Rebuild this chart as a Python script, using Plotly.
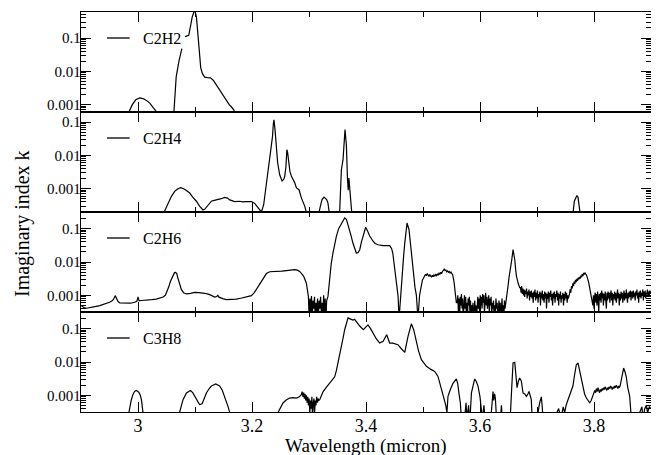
import numpy as np
import plotly.graph_objects as go
from plotly.subplots import make_subplots

# ---------------- data (wavelength in micron, imaginary index k) ----------------
gas_names = ["C2H2", "C2H4", "C2H6", "C3H8"]

c2h2_x = [2.978, 2.984, 2.990, 2.996, 3.003, 3.010, 3.016, 3.021, 3.027, 3.033, 3.040,
          3.058, 3.063, 3.067, 3.072, 3.077, None,
          3.0825, 3.086, 3.089, 3.092, 3.095, 3.0995, 3.1025, 3.1065, 3.110, 3.113, 3.117,
          3.122, 3.127, 3.132, 3.137, 3.143, 3.149, 3.155, 3.160, 3.164, 3.168, 3.172]
c2h2_k = [0.0003, 0.0006, 0.0010, 0.0014, 0.0016, 0.0015, 0.0013, 0.0011, 0.0008, 0.0006, 0.0003,
          0.0003, 0.0006, 0.0068, 0.021, 0.048, None,
          0.11, 0.115, 0.12, 0.22, 0.42, 0.70, 0.43, 0.068, 0.013, 0.0085, 0.0067,
          0.0065, 0.0064, 0.0054, 0.0040, 0.0027, 0.0019, 0.00135, 0.0010, 0.00085, 0.0007, 0.0004]

c2h4_x = [3.040, 3.046, 3.052, 3.0586, 3.065, 3.070, 3.075, 3.080, 3.085, 3.0907, 3.096, 3.1025,
          3.108, 3.114, 3.117, 3.120, 3.1245, 3.1288, 3.132, 3.135, 3.1404, 3.146, 3.152, 3.157,
          3.161, 3.1696, 3.178, 3.184, 3.190, 3.195, 3.199, 3.2047, 3.2105, 3.2165, 3.2205,
          3.2253, 3.228, 3.231, 3.2335, 3.236, 3.2375, 3.2385, 3.2404, 3.2425, 3.245, 3.2486,
          3.2527, 3.2555, 3.2574, 3.2595, 3.2612, 3.2625, 3.2645, 3.2665, 3.269, 3.272, 3.275,
          3.278, 3.2825, 3.2866, 3.2925, 3.297,
          3.316, 3.320, 3.3228, 3.3263, 3.329, 3.331, 3.3333, 3.3363,
          3.350, 3.3535, 3.3568, 3.3597, 3.3632, 3.3656, 3.3675, 3.3688, 3.370, 3.3715, 3.3735,
          3.3755, 3.380,
          3.762, 3.7655, 3.768, 3.770, 3.772, 3.774, 3.777]
c2h4_k = [0.00012, 0.0002, 0.00035, 0.00059, 0.00085, 0.0010, 0.00107, 0.0010, 0.00088, 0.00074,
          0.00056, 0.00042, 0.0003, 0.00023, 0.00024, 0.00028, 0.00036, 0.00042, 0.00044, 0.00045,
          0.00047, 0.0005, 0.00055, 0.00052, 0.00046, 0.00041, 0.00042, 0.0004, 0.00041, 0.00042,
          0.00041, 0.00036, 0.00026, 0.0002, 0.00033,
          0.0015, 0.0035, 0.0074, 0.016, 0.037, 0.09, 0.117, 0.059, 0.018, 0.006, 0.0026,
          0.0017, 0.0019, 0.0023, 0.0045, 0.0148, 0.012, 0.006, 0.0033, 0.0024, 0.0019, 0.0015,
          0.00105, 0.00093, 0.00053, 0.0003, 0.00015,
          0.00015, 0.0003, 0.00047, 0.00056, 0.0005, 0.00047, 0.00037, 0.00015,
          0.00012, 0.00015, 0.0037, 0.0074, 0.059, 0.02, 0.002, 0.0009, 0.0021, 0.0009, 0.0005,
          0.00015, 0.00012,
          0.00012, 0.00042, 0.00055, 0.00062, 0.00055, 0.0003, 0.00012]

# C2H6: smooth parts plus hand-read noisy stretches
c2h6_x_a = [2.900, 2.903, 2.906, 2.910, 2.915, 2.922, 2.933, 2.942, 2.950, 2.954, 2.957, 2.960,
            2.9625, 2.965, 2.968, 2.975, 2.9796, 2.987, 2.994, 2.998, 3.000, 3.002, 3.006,
            3.0147, 3.024, 3.032, 3.038, 3.044, 3.048, 3.051, 3.054, 3.0568, 3.0614, 3.064,
            3.066, 3.068, 3.070, 3.073, 3.076, 3.080, 3.085, 3.092, 3.0995, 3.107, 3.114, 3.120,
            3.1258, 3.1346, 3.138, 3.140, 3.142, 3.145, 3.150, 3.155, 3.164, 3.1726, 3.182, 3.190,
            3.195, 3.199, 3.204, 3.2077, 3.212, 3.2165, 3.221, 3.2253, 3.231, 3.237, 3.243, 3.252,
            3.2604, 3.268, 3.2749, 3.2795, 3.2837, 3.287, 3.2907, 3.2954, 3.2975]
c2h6_k_a = [0.0005, 0.00045, 0.00042, 0.00041, 0.00042, 0.00045, 0.00049, 0.00055, 0.00062,
            0.00068, 0.00075, 0.00098, 0.0008, 0.00065, 0.00059, 0.00058, 0.00057, 0.00058,
            0.00062, 0.00066, 0.00089, 0.00068, 0.0007, 0.00071, 0.00074, 0.00077, 0.00082,
            0.00089, 0.0010, 0.0013, 0.0018, 0.0026, 0.0042, 0.0048, 0.0049, 0.0045, 0.0033,
            0.0021, 0.0015, 0.0012, 0.0011, 0.00115, 0.00122, 0.0012, 0.00118, 0.00112, 0.00105,
            0.00089, 0.00092, 0.0010, 0.00088, 0.00083, 0.00078, 0.00074, 0.00075, 0.00077,
            0.00083, 0.00089, 0.00093, 0.00098, 0.0012, 0.0015, 0.0020, 0.0026, 0.0036, 0.0045,
            0.0051, 0.0051, 0.0051, 0.0053, 0.0055, 0.0057, 0.0059, 0.0057, 0.0052, 0.0045,
            0.0037, 0.0023, 0.0013]
c2h6_noise1_span = (3.299, 3.331)
c2h6_noise1_k = [0.0009, 0.0002, 0.0008, 0.0003, 0.00095, 0.0002, 0.0007, 0.0004, 0.0009, 0.0002,
                 0.0006, 0.0003, 0.0008, 0.0002, 0.0007, 0.0004, 0.0009, 0.0003, 0.0006, 0.0002,
                 0.0010, 0.0003, 0.0008, 0.0002, 0.0007]
c2h6_x_b = [3.3333, 3.3363, 3.339, 3.342, 3.345, 3.348, 3.352, 3.357, 3.3626, 3.3656, 3.368,
            3.3714, 3.374, 3.377, 3.380, 3.383, 3.386, 3.389, 3.392, 3.3947, 3.3995, 3.4035,
            3.4065, 3.4124, 3.416, 3.421, 3.430, 3.4416, 3.445, 3.447, 3.4495, 3.452, 3.4545,
            3.4563, 3.458, 3.4604, 3.462, 3.4639, 3.466, 3.468, 3.470, 3.472, 3.4755, 3.4775,
            3.4796, 3.4815, 3.4837, 3.486, 3.4884, 3.4912, 3.494, 3.4965, 3.499]
c2h6_k_b = [0.00093, 0.0037, 0.009, 0.0186, 0.035, 0.059, 0.10, 0.148, 0.21, 0.19, 0.14, 0.093,
            0.06, 0.037, 0.025, 0.0186, 0.019, 0.0234, 0.04, 0.059, 0.11, 0.08, 0.06, 0.042,
            0.036, 0.033, 0.031, 0.031, 0.025, 0.0186, 0.009, 0.0037, 0.0016, 0.00093, 0.0002,
            0.00093, 0.0025, 0.0059, 0.015, 0.037, 0.08, 0.148, 0.093, 0.04, 0.0186, 0.008,
            0.0037, 0.0017, 0.0010, 0.0002, 0.0010, 0.0019, 0.0029]
c2h6_plateau_span = (3.500, 3.552)
c2h6_plateau_k = [0.0031, 0.0036, 0.0040, 0.0043, 0.0039, 0.0044, 0.0041, 0.0037, 0.0042, 0.0038,
                  0.0035, 0.0040, 0.0036, 0.0041, 0.0038, 0.0042, 0.0039, 0.0044, 0.0040, 0.0046,
                  0.0043, 0.0049, 0.0045, 0.0052, 0.0056, 0.0061, 0.0055, 0.0058, 0.0051, 0.0054,
                  0.0049, 0.0052, 0.0047, 0.0050, 0.0045, 0.0042]
c2h6_x_c = [3.5545, 3.5556, 3.5585]
c2h6_k_c = [0.0025, 0.0015, 0.0006]
c2h6_noise2_span = (3.560, 3.645)
c2h6_noise2_k = [0.0006, 0.0010, 0.0003, 0.0008, 0.0002, 0.0009, 0.0005, 0.0011, 0.0004, 0.0008,
                 0.0002, 0.0007, 0.0010, 0.0004, 0.0009, 0.0003, 0.0006, 0.0002, 0.0008, 0.0005,
                 0.0009, 0.0003, 0.0007, 0.0002, 0.0005, 0.0003, 0.0006, 0.0002, 0.0004, 0.0007,
                 0.0003, 0.0005, 0.0002, 0.0006, 0.0009, 0.0004, 0.0008, 0.0003, 0.0010, 0.0005,
                 0.0009, 0.0004, 0.0011, 0.0006, 0.0010, 0.0003, 0.0008, 0.0012, 0.0005, 0.0009,
                 0.0004, 0.0007, 0.0010, 0.0003, 0.0008, 0.0005, 0.0009, 0.0002, 0.0006, 0.0004,
                 0.0007, 0.0002, 0.0005, 0.0003, 0.0008, 0.0004, 0.0006, 0.0002, 0.0005, 0.0007,
                 0.0003, 0.0006, 0.0002, 0.0004, 0.0008, 0.0003, 0.0005, 0.0002, 0.0007, 0.0004,
                 0.0006]
c2h6_x_d = [3.6463, 3.649, 3.651, 3.6533, 3.6555, 3.658, 3.6595, 3.661, 3.6625, 3.664, 3.667, 3.6696]
c2h6_k_d = [0.0007, 0.0018, 0.0035, 0.0059, 0.011, 0.0234, 0.018, 0.0117, 0.006, 0.0037, 0.0023, 0.0017]
c2h6_noise3_span = (3.671, 3.755)
c2h6_noise3_k = [0.0017, 0.0012, 0.0019, 0.0011, 0.0016, 0.0010, 0.0015, 0.0009, 0.0014, 0.0011,
                 0.0016, 0.0008, 0.0013, 0.0010, 0.0015, 0.0007, 0.0013, 0.0009, 0.0014, 0.0008,
                 0.0012, 0.0006, 0.0013, 0.0009, 0.0015, 0.0007, 0.0012, 0.0008, 0.0014, 0.0006,
                 0.0011, 0.0009, 0.0013, 0.0005, 0.0012, 0.0008, 0.0014, 0.0007, 0.0011, 0.0006,
                 0.0013, 0.0008, 0.0012, 0.0004, 0.0011, 0.0008, 0.0013, 0.0006, 0.0012, 0.0009,
                 0.0014, 0.0007, 0.0011, 0.0005, 0.0012, 0.0008, 0.0013, 0.0006, 0.0011, 0.0009,
                 0.0014, 0.0007, 0.0012, 0.0005, 0.0011, 0.0008, 0.0013, 0.0006, 0.0010, 0.0008,
                 0.0012, 0.0005, 0.0011, 0.0007, 0.0013, 0.0008, 0.0012, 0.0006, 0.0010, 0.0008]
c2h6_hump_span = (3.757, 3.797)
c2h6_hump_k = [0.0011, 0.0015, 0.0012, 0.0019, 0.0016, 0.0023, 0.0019, 0.0026, 0.0022, 0.0029,
               0.0025, 0.0031, 0.0027, 0.0034, 0.0030, 0.0036, 0.0032, 0.0039, 0.0035, 0.0043,
               0.0038, 0.0047, 0.0042, 0.0048, 0.0044, 0.0042, 0.0037, 0.0033, 0.0027, 0.0022,
               0.0017, 0.0013, 0.0010, 0.0007, 0.0005]
c2h6_noise4_span = (3.798, 3.900)
c2h6_noise4_k = [0.0005, 0.0010, 0.0004, 0.0009, 0.0012, 0.0006, 0.0011, 0.0005, 0.0013, 0.0008,
                 0.0003, 0.0011, 0.0007, 0.0012, 0.0006, 0.0014, 0.0008, 0.0012, 0.0005, 0.0011,
                 0.0007, 0.0013, 0.0009, 0.0004, 0.0012, 0.0007, 0.0013, 0.0008, 0.0012, 0.0006,
                 0.0011, 0.0014, 0.0007, 0.0012, 0.0005, 0.0011, 0.0008, 0.0013, 0.0007, 0.0012,
                 0.0006, 0.0011, 0.0015, 0.0008, 0.0012, 0.0005, 0.0011, 0.0007, 0.0013, 0.0008,
                 0.0012, 0.0006, 0.0011, 0.0014, 0.0007, 0.0012, 0.0008, 0.0015, 0.0009, 0.0006,
                 0.0012, 0.0008, 0.0013, 0.0009, 0.0014, 0.0007, 0.0012, 0.0013, 0.0008, 0.0014,
                 0.0009, 0.0012, 0.0007, 0.0013, 0.0010, 0.0015, 0.0008, 0.0012, 0.0006, 0.0013,
                 0.0009, 0.0014, 0.0008, 0.0012, 0.0010, 0.0015, 0.0007, 0.0013, 0.0009, 0.0014,
                 0.0008, 0.0012, 0.0011, 0.0015, 0.0009, 0.0013, 0.0010, 0.0014, 0.0011, 0.0013]

# C3H8
c3h8_x_a = [2.980, 2.984, 2.988, 2.991, 2.994, 2.997, 3.000, 3.0018, 3.004, 3.006, 3.0088, 3.012,
            3.070, 3.074, 3.079, 3.085, 3.092, 3.096, 3.0995, 3.104, 3.108, 3.1125, 3.116, 3.120,
            3.125, 3.1288, 3.1363, 3.1433, 3.148, 3.152, 3.155, 3.158, 3.161, 3.165,
            3.240, 3.2456, 3.250, 3.2544, 3.260, 3.266, 3.272, 3.278, 3.283, 3.2866, 3.288]
c3h8_k_a = [0.0002, 0.0003, 0.0007, 0.00105, 0.0013, 0.0014, 0.0013, 0.0012, 0.0010, 0.00074,
            0.0003, 0.0002,
            0.0002, 0.00035, 0.00074, 0.00118, 0.0014, 0.0012, 0.00093, 0.0007, 0.00053, 0.00056,
            0.0008, 0.00118, 0.0016, 0.0019, 0.0022, 0.0019, 0.0014, 0.00093, 0.0007, 0.00046,
            0.0003, 0.0002,
            0.0002, 0.0003, 0.00045, 0.00059, 0.00072, 0.00083, 0.00085, 0.00083, 0.0009,
            0.00105, 0.0013]
c3h8_noise1_span = (3.2895, 3.317)
c3h8_noise1_k = [0.0009, 0.0012, 0.0008, 0.0011, 0.0007, 0.0010, 0.0006, 0.0009, 0.0005, 0.0008,
                 0.0003, 0.0007, 0.0004, 0.0009, 0.0002, 0.0006, 0.0008, 0.0003, 0.0007, 0.0005,
                 0.0009, 0.0006, 0.0008, 0.0007]
c3h8_x_b = [3.3188, 3.322, 3.3248, 3.330, 3.3363, 3.341, 3.345, 3.348, 3.351, 3.354, 3.357, 3.360,
            3.3626, 3.3655, 3.3684, 3.371, 3.3744, 3.377, 3.380, 3.384, 3.389, 3.3953, 3.399,
            3.4035, 3.408, 3.4124, 3.418, 3.424, 3.430, 3.4363, 3.439, 3.4416, 3.447, 3.452,
            3.456, 3.462, 3.468, 3.4737, 3.4796, 3.4837, 3.4884, 3.492, 3.4972, 3.506, 3.514,
            3.5205, 3.5263, 3.529, 3.5322, 3.535, 3.538, 3.540, 3.542, 3.5438, 3.548, 3.5526,
            3.5585, 3.561, 3.563, 3.5655, 3.5673,
            3.573, 3.5755, 3.577, 3.580, 3.5815,
            3.583, 3.585, 3.588, 3.5907, 3.5935, 3.5965, 3.600, 3.6025, 3.604, 3.607, 3.6085,
            3.619, 3.6215, 3.6228, 3.624, 3.6257, 3.627, 3.629,
            3.636, 3.6376, 3.639,
            3.653, 3.6555, 3.658, 3.661, 3.663, 3.665, 3.6675, 3.6696, 3.6725, 3.6755, 3.6785,
            3.6814, 3.684, 3.686, 3.688, 3.690, 3.6915,
            3.700, 3.7047, 3.7076, 3.709, 3.7105,
            3.730, 3.738, 3.742, 3.746, 3.7486,
            3.751, 3.7544, 3.758, 3.763, 3.766, 3.769, 3.772, 3.775, 3.778, 3.7807, 3.7835,
            3.7866, 3.789, 3.7925, 3.795, 3.798]
c3h8_k_b = [0.00074, 0.0010, 0.0013, 0.0017, 0.0023, 0.0030, 0.0036, 0.0055, 0.0093, 0.016,
            0.029, 0.055, 0.093, 0.15, 0.21, 0.20, 0.19, 0.18, 0.19, 0.15, 0.12, 0.093, 0.11,
            0.13, 0.10, 0.074, 0.05, 0.037, 0.042, 0.066, 0.048, 0.037, 0.037, 0.035, 0.033,
            0.025, 0.0195, 0.059, 0.14, 0.093, 0.042, 0.022, 0.0117, 0.0074, 0.006, 0.0052,
            0.0037, 0.0025, 0.0015, 0.0010, 0.00074, 0.0005, 0.0003, 0.00093, 0.0015, 0.0023,
            0.0031, 0.0022, 0.00118, 0.0006, 0.0002,
            0.0002, 0.0006, 0.0002, 0.0005, 0.0002,
            0.0003, 0.00118, 0.0020, 0.0031, 0.0026, 0.0019, 0.0009, 0.0004, 0.0002, 0.0005, 0.0002,
            0.0002, 0.0009, 0.0013, 0.0007, 0.0011, 0.0008, 0.0002,
            0.0002, 0.0005, 0.0002,
            0.0002, 0.0015, 0.0093, 0.0097, 0.0040, 0.0017, 0.0027, 0.0033, 0.0027, 0.00118,
            0.0011, 0.00093, 0.0011, 0.0013, 0.0010, 0.00074, 0.0002,
            0.0002, 0.0006, 0.0009, 0.0005, 0.0002,
            0.0002, 0.0004, 0.0002, 0.00045, 0.0003,
            0.0005, 0.00074, 0.0011, 0.0019, 0.0042, 0.0083, 0.0093, 0.0052, 0.0025, 0.0015,
            0.0011, 0.00083, 0.0007, 0.0006, 0.0007, 0.00093]
c3h8_plateau_span = (3.800, 3.846)
c3h8_plateau_k = [0.0011, 0.0014, 0.0012, 0.0016, 0.0013, 0.0017, 0.0014, 0.0012, 0.0015, 0.0013,
                  0.0016, 0.0014, 0.0017, 0.0015, 0.0018, 0.0016, 0.0014, 0.0017, 0.0015, 0.0018,
                  0.0016, 0.0019, 0.0017, 0.0015, 0.0018, 0.0016, 0.0019, 0.0017, 0.0020, 0.0018,
                  0.0016, 0.0019, 0.0017, 0.0020]
c3h8_x_c = [3.848, 3.850, 3.852, 3.8545, 3.8566, 3.859, 3.8626, 3.8655, 3.875, 3.880, 3.884,
            3.886, 3.889, 3.892, 3.894, 3.897, 3.900]
c3h8_k_c = [0.0028, 0.0045, 0.0066, 0.0050, 0.0036, 0.0018, 0.00093, 0.0002, 0.0002, 0.0003,
            0.00045, 0.0002, 0.0004, 0.0005, 0.0003, 0.00045, 0.0004]

x_tick_vals = [3.0, 3.2, 3.4, 3.6, 3.8]
x_tick_text = ["3", "3.2", "3.4", "3.6", "3.8"]
x_minor_vals = [3.1, 3.3, 3.5, 3.7]
y_tick_vals = [0.001, 0.01, 0.1]
y_tick_text = ["0.001", "0.01", "0.1"]
y_minor_vals = [m * 10.0 ** e for e in range(-4, 0) for m in range(2, 10)]
y_ranges_log = [(-3.22, -0.22), (-3.7, -0.7), (-3.5, -0.5), (-3.5, -0.5)]


# ---------------- assemble series ----------------
def noisy(span, vals):
    return list(np.linspace(span[0], span[1], len(vals))), list(vals)


def join(*parts):
    xs, ks = [], []
    for px, pk in parts:
        xs += list(px)
        ks += list(pk)
    return xs, ks


c2h6_x, c2h6_k = join((c2h6_x_a, c2h6_k_a), noisy(c2h6_noise1_span, c2h6_noise1_k),
                      (c2h6_x_b, c2h6_k_b), noisy(c2h6_plateau_span, c2h6_plateau_k),
                      (c2h6_x_c, c2h6_k_c), noisy(c2h6_noise2_span, c2h6_noise2_k),
                      (c2h6_x_d, c2h6_k_d), noisy(c2h6_noise3_span, c2h6_noise3_k),
                      noisy(c2h6_hump_span, c2h6_hump_k), noisy(c2h6_noise4_span, c2h6_noise4_k))
c3h8_x, c3h8_k = join((c3h8_x_a, c3h8_k_a), noisy(c3h8_noise1_span, c3h8_noise1_k),
                      (c3h8_x_b, c3h8_k_b), noisy(c3h8_plateau_span, c3h8_plateau_k),
                      (c3h8_x_c, c3h8_k_c))

series = [(c2h2_x, c2h2_k), (c2h4_x, c2h4_k), (c2h6_x, c2h6_k), (c3h8_x, c3h8_k)]

# ---------------- figure ----------------
SERIF = "Liberation Serif, Times New Roman, serif"
fig = make_subplots(rows=4, cols=1, shared_xaxes=True, vertical_spacing=0)

for i, ((xs, ks), name) in enumerate(zip(series, gas_names)):
    row = i + 1
    fig.add_trace(go.Scatter(x=xs, y=ks, mode="lines", name=name, connectgaps=False,
                             line=dict(color="black", width=1.2), showlegend=False),
                  row=row, col=1)
    fig.update_yaxes(type="log", range=list(y_ranges_log[i]),
                     tickmode="array", tickvals=y_tick_vals, ticktext=y_tick_text,
                     ticks="inside", ticklen=10, tickwidth=1.3, tickcolor="black",
                     ticklabelstandoff=-4,
                     minor=dict(ticks="inside", ticklen=5, tickwidth=1, tickcolor="black",
                                tickmode="array", tickvals=y_minor_vals, showgrid=False),
                     showline=True, linecolor="black", linewidth=1.3, mirror="ticks",
                     showgrid=False, zeroline=False,
                     tickfont=dict(family=SERIF, size=15, color="black"),
                     row=row, col=1)
    fig.update_xaxes(range=[2.9, 3.9], tickmode="array", tickvals=x_tick_vals,
                     ticktext=x_tick_text,
                     ticks="inside", ticklen=10, tickwidth=1.3, tickcolor="black",
                     ticklabelstandoff=-3,
                     minor=dict(ticks="inside", ticklen=5, tickwidth=1.3, tickcolor="black",
                                tickmode="array", tickvals=x_minor_vals, showgrid=False),
                     showline=True, linecolor="black", linewidth=1.3, mirror="ticks",
                     showgrid=False, zeroline=False,
                     showticklabels=(row == 4),
                     tickfont=dict(family=SERIF, size=18, color="black"),
                     row=row, col=1)
    xd = "x domain" if row == 1 else f"x{row} domain"
    yd = "y domain" if row == 1 else f"y{row} domain"
    fig.add_shape(type="line", xref=xd, yref=yd, x0=0.0456, x1=0.0854, y0=0.74, y1=0.74,
                  line=dict(color="black", width=1.3))
    fig.add_annotation(text=name, xref=xd, yref=yd, x=0.106, y=0.74, xanchor="left",
                       yanchor="middle", showarrow=False,
                       font=dict(family=SERIF, size=16, color="black"))

fig.add_annotation(text="Imaginary index k", xref="paper", yref="paper", x=-0.1035, y=0.47,
                   textangle=-90, showarrow=False, xanchor="center", yanchor="middle",
                   font=dict(family=SERIF, size=20, color="black"))
fig.add_annotation(text="Wavelength (micron)", xref="paper", yref="paper", x=0.5, y=-0.086,
                   showarrow=False, xanchor="center", yanchor="middle",
                   font=dict(family=SERIF, size=19, color="black"))

# the page body adds an 8px offset; shrink the figure so the plot area lands where it should
fig.update_layout(width=651, height=447, margin=dict(l=73, r=8, t=4, b=43, autoexpand=False),
                  paper_bgcolor="white", plot_bgcolor="white", showlegend=False)

fig.write_html("out.html")
